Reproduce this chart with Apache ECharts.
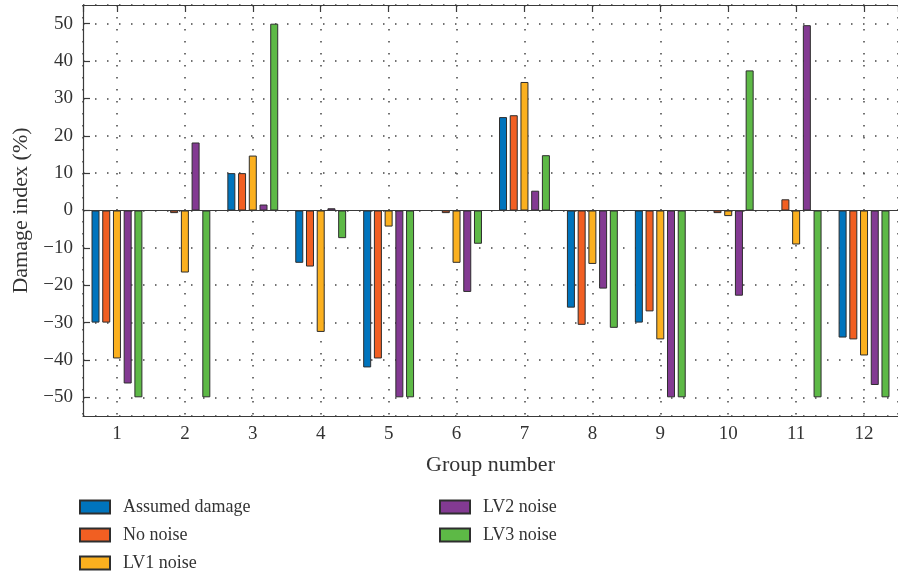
<!DOCTYPE html>
<html>
<head>
<meta charset="utf-8">
<script src="https://cdn.jsdelivr.net/npm/echarts@6/dist/echarts.min.js"></script>
<style>
    html, body { margin: 0; padding: 0; background: #fff; }
    #charts { width: 898px; height: 574px; }
</style>
</head>
<body>
<div id="charts"></div>
<script>
// group numbers on the x axis
var groups = ['1', '2', '3', '4', '5', '6', '7', '8', '9', '10', '11', '12'];
// damage index (%) per group
var assumedDamage = [-30, 0, 10, -14, -42, 0, 25, -26, -30, 0, 0, -34];
var noNoise = [-30, -0.7, 10, -15, -39.6, -0.7, 25.5, -30.6, -27, -0.7, 3, -34.5];
var lv1Noise = [-39.6, -16.6, 14.7, -32.5, -4.3, -14, 34.4, -14.3, -34.5, -1.5, -9.1, -38.8];
var lv2Noise = [-46.3, 18.2, 1.6, 0.6, -50, -21.8, 5.3, -20.9, -50, -22.8, 49.6, -46.7];
var lv3Noise = [-50, -50, 50, -7.4, -50, -8.9, 14.8, -31.4, -50, 37.5, -50, -50];

var serif = '"Liberation Serif", "DejaVu Serif", serif';
var axisColor = '#3a3a3a';
var dots = { color: '#444', width: 1.5, type: [1.5, 10.5] };

function barSeries(name, data, color) {
    return {
        name: name,
        type: 'bar',
        data: data,
        barWidth: 8,
        barGap: '34%',
        itemStyle: { color: color, borderColor: '#2e2e2e', borderWidth: 1 }
    };
}

var series = [
    barSeries('Assumed damage', assumedDamage, '#0074BD'),
    barSeries('No noise', noNoise, '#F15F22'),
    barSeries('LV1 noise', lv1Noise, '#FBB01F'),
    barSeries('LV2 noise', lv2Noise, '#833A92'),
    barSeries('LV3 noise', lv3Noise, '#5DB946')
];
// baseline at zero, like the original plot
series[0].markLine = {
    silent: true,
    symbol: 'none',
    label: { show: false },
    lineStyle: { color: axisColor, width: 1.2, type: 'solid' },
    data: [{ yAxis: 0 }]
};

var legendText = { fontFamily: serif, fontSize: 18, color: '#333', lineHeight: 18, padding: [0, 0, 0, 8] };

var option = {
    animation: false,
    grid: { left: 83, top: 5, width: 824, height: 411 },
    legend: [
        {
            orient: 'vertical', left: 79, top: 498, padding: 0,
            icon: 'rect',
            itemWidth: 30, itemHeight: 13, itemGap: 10,
            textStyle: legendText,
            data: ['Assumed damage', 'No noise', 'LV1 noise']
        },
        {
            orient: 'vertical', left: 439, top: 498, padding: 0,
            icon: 'rect',
            itemWidth: 30, itemHeight: 13, itemGap: 10,
            textStyle: legendText,
            data: ['LV2 noise', 'LV3 noise']
        }
    ],
    xAxis: [
        {
            type: 'category',
            data: groups,
            position: 'bottom',
            name: 'Group number',
            nameLocation: 'middle',
            nameGap: 38,
            nameTextStyle: { fontFamily: serif, fontSize: 22, color: '#333' },
            axisLine: { onZero: false, lineStyle: { color: axisColor, width: 1.2 } },
            axisTick: { inside: true, alignWithLabel: true, length: 7, lineStyle: { color: axisColor, width: 1.2 } },
            axisLabel: { margin: 9, fontFamily: serif, fontSize: 19, color: '#333' },
            splitLine: { show: false }
        },
        {
            // top edge: ticks and dotted verticals at every group
            type: 'value',
            position: 'top',
            min: 0.5,
            max: 12.5,
            splitNumber: 12,
            axisLine: { show: true, onZero: false, lineStyle: { color: axisColor, width: 1.2 } },
            axisTick: { show: true, inside: true, length: 7, lineStyle: { color: axisColor, width: 1.2 } },
            axisLabel: { show: false },
            splitLine: { show: true, lineStyle: dots }
        }
    ],
    yAxis: {
        type: 'value',
        min: -55,
        max: 55,
        splitNumber: 11,
        name: 'Damage index (%)',
        nameLocation: 'middle',
        nameGap: 47,
        nameTextStyle: { fontFamily: serif, fontSize: 22, color: '#333' },
        axisLine: { show: true, lineStyle: { color: axisColor, width: 1.2 } },
        axisTick: { show: true, inside: true, length: 7, lineStyle: { color: axisColor, width: 1.2 } },
        axisLabel: {
            margin: 10, fontFamily: serif, fontSize: 19, color: '#333',
            showMinLabel: false, showMaxLabel: false,
            formatter: function (v) { return v < 0 ? '\u2212' + (-v) : String(v); }
        },
        splitLine: { show: true, lineStyle: dots }
    },
    series: series
};

var myChart = echarts.init(document.getElementById('charts'));
myChart.setOption(option);
</script>
</body>
</html>
